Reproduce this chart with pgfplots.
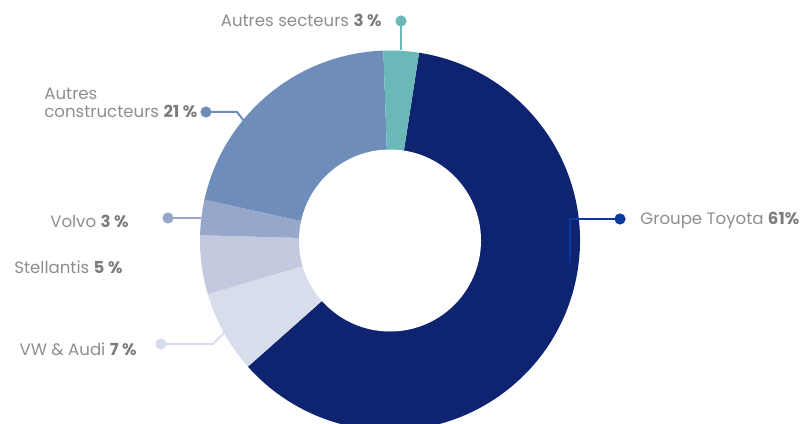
\documentclass[border=0pt]{standalone}
\usepackage{pgfplots}
\pgfplotsset{compat=1.18}
\usepackage{pgfplotstable}
\usepackage{fontspec}
\setmainfont{Poppins}

\definecolor{slice0}{HTML}{0E2470}
\definecolor{slice1}{HTML}{D8DDEC}
\definecolor{slice2}{HTML}{C3CADF}
\definecolor{slice3}{HTML}{97A7C9}
\definecolor{slice4}{HTML}{6E8DBA}
\definecolor{slice5}{HTML}{6AB8B8}
\definecolor{toyline}{HTML}{0A3AA0}
\definecolor{txt}{HTML}{8E8E8E}
\definecolor{txtb}{HTML}{7C7C7C}

% parts in clockwise order, starting right of the top
\pgfplotstableread[col sep=comma]{
part,value
Groupe Toyota,61
VW & Audi,7
Stellantis,5
Volvo,3
Autres constructeurs,21
Autres secteurs,3
}\piedata

\newcommand{\lbl}[2]{\textcolor{txt}{#1}\textcolor{txtb}{\bfseries #2}}

\begin{document}
\begin{tikzpicture}
\begin{axis}[x=0.5pt, y=0.5pt, xmin=0, xmax=802, ymin=0, ymax=423,
  scale only axis, hide axis, clip=true]
  \xdef\angA{81.2}
  \foreach \i in {0,...,5}{
    \pgfplotstablegetelem{\i}{value}\of\piedata
    \pgfmathsetmacro\angB{\angA-3.6*\pgfplotsretval}
    \edef\tmp{\noexpand\fill[slice\i] (axis cs:390,182.5) -- ([shift={(\angA:95pt)}]axis cs:390,182.5)
      arc[start angle=\angA, end angle=\angB, radius=95pt] -- cycle;}
    \tmp
    \xdef\angA{\angB}
  }
  \fill[white] (axis cs:390,182.5) circle[radius=45.5pt];

  % leader lines
  \draw[slice5, line width=1pt] (axis cs:401,402) -- (axis cs:401,373);
  \fill[slice5] (axis cs:401,402) circle[radius=2.8pt];
  \draw[slice4, line width=1pt] (axis cs:206,311) -- (axis cs:237,311) -- (axis cs:244,302);
  \fill[slice4] (axis cs:206,311) circle[radius=2.8pt];
  \draw[slice3, line width=1pt] (axis cs:168,205) -- (axis cs:201,205);
  \fill[slice3] (axis cs:168,205) circle[radius=2.8pt];
  \draw[slice1, line width=1pt] (axis cs:161,79) -- (axis cs:213,79) -- (axis cs:226,92);
  \fill[slice1] (axis cs:161,79) circle[radius=2.8pt];
  \draw[toyline, line width=1pt] (axis cs:620,204) -- (axis cs:570,204) -- (axis cs:570,160);
  \fill[toyline] (axis cs:620,204) circle[radius=2.8pt];

  % labels
  \begin{scope}[every node/.style={inner sep=0pt, font=\fontsize{8.3}{10}\selectfont}]
  \node[anchor=base east] at (axis cs:382,396) {\lbl{Autres secteurs }{3 \%}};
  \node[anchor=base west] at (axis cs:44,323) {\lbl{Autres}{}};
  \node[anchor=base west] at (axis cs:44,305) {\lbl{constructeurs }{21 \%}};
  \node[anchor=base east] at (axis cs:129,195) {\lbl{Volvo }{3 \%}};
  \node[anchor=base west] at (axis cs:14,149) {\lbl{Stellantis }{5 \%}};
  \node[anchor=base east] at (axis cs:137,68) {\lbl{VW \& Audi }{7 \%}};
  \node[anchor=base west] at (axis cs:640,198) {\lbl{Groupe Toyota }{61\%}};
  \end{scope}
\end{axis}
\pgfresetboundingbox
\useasboundingbox (current axis.south west) rectangle (current axis.north east);
\end{tikzpicture}
\end{document}
